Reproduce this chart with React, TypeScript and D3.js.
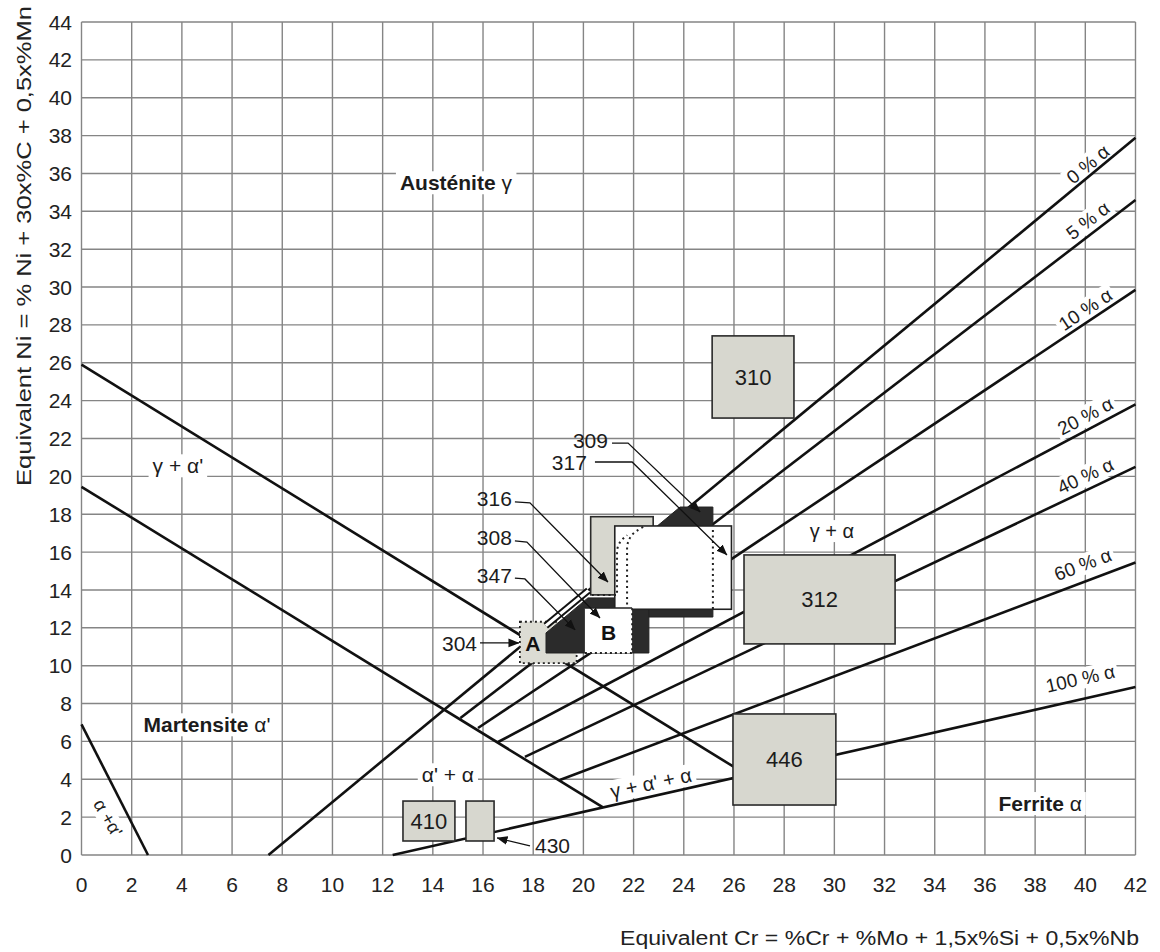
import React, { useEffect, useRef } from 'react';
import * as d3 from 'd3';

const W = 1160;
const H = 952;

// axis ticks
const xTickValues = [0, 2, 4, 6, 8, 10, 12, 14, 16, 18, 20, 22, 24, 26, 28, 30, 32, 34, 36, 38, 40, 42];
const yTickValues = [0, 2, 4, 6, 8, 10, 12, 14, 16, 18, 20, 22, 24, 26, 28, 30, 32, 34, 36, 38, 40, 42, 44];

const xTitle = 'Equivalent Cr = %Cr + %Mo + 1,5x%Si + 0,5x%Nb';
const yTitle = 'Equivalent Ni = % Ni + 30x%C + 0,5x%Mn';

// phase boundary lines (Cr eq, Ni eq)
const lineAlphaMart: [number, number][] = [[0, 6.9], [2.65, 0]];
const lineUpperGammaMart: [number, number][] = [[0, 25.9], [26, 4.65]];
const lineLowerMart: [number, number][] = [[0, 19.45], [20.78, 2.52]];

// iso-ferrite lines
const ferriteLabels = ['0 % α', '5 % α', '10 % α', '20 % α', '40 % α', '60 % α', '100 % α'];
const ferriteStarts: [number, number][] = [[7.45, 0], [15.1, 7.24], [15.8, 6.71], [16.6, 5.97], [17.67, 5.18], [19.06, 3.96], [12.4, 0]];
const ferriteEnds: [number, number][] = [[42, 37.88], [42, 34.6], [42, 29.85], [42, 23.8], [42, 20.5], [42, 15.45], [42, 8.87]];
const ferriteLabelLift = [13, 16, 14, 15, 15, 18, 21];
const ferriteLabelX = [40.1, 40.1, 40.0, 40.0, 40.0, 39.9, 39.8];

// grade boxes (gray)
const gradeNames = ['310', '312', '446', '410', '430'];
const gradeX0 = [25.13, 26.4, 25.96, 12.81, 15.32];
const gradeX1 = [28.39, 32.42, 30.06, 14.88, 16.44];
const gradeY0 = [23.08, 11.15, 2.64, 0.74, 0.74];
const gradeY1 = [27.42, 15.85, 7.45, 2.85, 2.85];
const gradeShowText = [true, true, true, true, false];

// cluster of austenitic grades
const box316 = [20.29, 22.78, 13.74, 17.87];
const box317 = [21.25, 25.9, 12.98, 17.38];
const boxA304 = [17.47, 19.73, 10.13, 12.32];
const boxB308 = [20.06, 21.94, 10.67, 13.05];
const dark347: [number, number][] = [[18.51, 10.67], [18.51, 11.73], [20.18, 13.58], [22.61, 13.58], [22.61, 10.67]];
const dark309: [number, number][] = [[21.94, 12.57], [21.94, 16.27], [23.85, 18.38], [25.16, 18.38], [25.16, 12.57]];
const band0: [number, number][] = [[18.5, 12.11], [20.2, 13.97]];
const dotted1: [number, number][] = [[20.34, 13.73], [21.34, 13.73], [21.34, 16.01], [21.45, 16.5], [21.74, 16.9]];
const dotted2: [number, number][] = [[21.74, 12.94], [21.74, 16.2], [21.9, 16.85], [22.38, 17.33]];
const dotted3: [number, number][] = [[25.16, 17.17], [25.16, 13.0]];

// callouts
const calloutNames = ['304', '347', '308', '316', '309', '317'];
const calloutTextPos: [number, number][] = [[15.76, 11.2], [17.15, 14.79], [17.15, 16.75], [17.15, 18.86], [20.98, 21.92], [20.14, 20.76]];
const calloutPaths: [number, number][][] = [
  [[15.88, 11.2], [17.43, 11.2]],
  [[17.27, 14.63], [17.67, 14.58], [19.67, 11.89]],
  [[17.27, 16.59], [17.75, 16.53], [20.66, 12.52]],
  [[17.27, 18.65], [17.87, 18.6], [20.98, 14.42]],
  [[21.14, 21.76], [21.78, 21.76], [24.65, 18.12]],
  [[20.46, 20.76], [21.94, 20.76], [25.72, 15.85]],
];
const callout430Text: [number, number] = [18.07, 0.48];
const callout430Path: [number, number][] = [[17.87, 0.48], [16.56, 0.9]];

// region labels
type Part = { t: string; b?: boolean };
const regionLabels: { parts: Part[]; at: [number, number]; rot: number; size: number }[] = [
  { parts: [{ t: 'Austénite ', b: true }, { t: 'γ' }], at: [14.92, 35.5], rot: 0, size: 21 },
  { parts: [{ t: 'Martensite ', b: true }, { t: "α'" }], at: [5.0, 6.87], rot: 0, size: 21 },
  { parts: [{ t: 'Ferrite ', b: true }, { t: 'α' }], at: [38.2, 2.71], rot: 0, size: 21 },
  { parts: [{ t: "γ + α'" }], at: [3.84, 20.55], rot: 0, size: 21 },
  { parts: [{ t: 'γ + α' }], at: [29.9, 17.11], rot: 0, size: 20 },
  { parts: [{ t: "α' + α" }], at: [14.6, 4.23], rot: 0, size: 21 },
  { parts: [{ t: "γ + α' + α" }], at: [22.69, 3.8], rot: -12, size: 20 },
  { parts: [{ t: "α +α'" }], at: [1.06, 1.96], rot: 60, size: 18 },
];

const FONT = '"Liberation Sans", Arial, Helvetica, sans-serif';

export default function App() {
  const ref = useRef<SVGSVGElement>(null);

  useEffect(() => {
    const svg = d3.select(ref.current as SVGSVGElement);
    svg.selectAll('*').remove();
    const x = d3.scaleLinear().domain([0, 42]).range([81.5, 1135.5]);
    const y = d3.scaleLinear().domain([0, 44]).range([855, 22]);
    const line = d3.line<[number, number]>().x(d => x(d[0])).y(d => y(d[1]));
    const curve = d3.line<[number, number]>().x(d => x(d[0])).y(d => y(d[1])).curve(d3.curveMonotoneY);

    svg.append('rect').attr('width', W).attr('height', H).attr('fill', '#fff');

    const defs = svg.append('defs');
    defs.append('marker').attr('id', 'arr').attr('viewBox', '0 0 10 10').attr('refX', 9.5).attr('refY', 5)
      .attr('markerWidth', 11).attr('markerHeight', 11).attr('markerUnits', 'userSpaceOnUse').attr('orient', 'auto')
      .append('path').attr('d', 'M0,1 L10,5 L0,9 Z').attr('fill', '#111');

    // grid
    const grid = svg.append('g');
    grid.selectAll('line.v').data(xTickValues).join('line').attr('class', 'v')
      .attr('x1', d => x(d)).attr('x2', d => x(d)).attr('y1', y(0)).attr('y2', y(44))
      .attr('stroke', '#858585').attr('stroke-width', 1.4);
    grid.selectAll('line.h').data(yTickValues).join('line').attr('class', 'h')
      .attr('y1', d => y(d)).attr('y2', d => y(d)).attr('x1', x(0)).attr('x2', x(42))
      .attr('stroke', '#858585').attr('stroke-width', 1.4);

    // tick labels
    svg.append('g').selectAll('text').data(xTickValues).join('text')
      .attr('x', d => x(d)).attr('y', 892).attr('text-anchor', 'middle')
      .attr('font-family', FONT).attr('font-size', 21).attr('fill', '#222').text(d => String(d));
    svg.append('g').selectAll('text').data(yTickValues).join('text')
      .attr('x', 72).attr('y', d => y(d)).attr('dy', '0.36em').attr('text-anchor', 'end')
      .attr('font-family', FONT).attr('font-size', 21).attr('fill', '#222').text(d => String(d));

    // axis titles
    svg.append('text').attr('x', 620).attr('y', 945).attr('font-family', FONT).attr('font-size', 20)
      .attr('fill', '#222').attr('textLength', 519).attr('lengthAdjust', 'spacingAndGlyphs').text(xTitle);
    svg.append('text').attr('transform', 'translate(31,246) rotate(-90)').attr('text-anchor', 'middle')
      .attr('font-family', FONT).attr('font-size', 20).attr('fill', '#222')
      .attr('textLength', 480).attr('lengthAdjust', 'spacingAndGlyphs').text(yTitle);

    // labels with white knock-out background
    const labelLayer = svg.append('g');
    const addLabel = (cx: number, cy: number, rot: number, parts: Part[], size: number, pad: number) => {
      const gg = labelLayer.append('g').attr('transform', `translate(${cx},${cy}) rotate(${rot})`);
      const rect = gg.append('rect').attr('fill', '#fff');
      const t = gg.append('text').attr('text-anchor', 'middle').attr('dy', '0.35em')
        .attr('font-family', FONT).attr('font-size', size).attr('fill', '#1c1c1c');
      parts.forEach(p => t.append('tspan').attr('font-weight', p.b ? 'bold' : 'normal').text(p.t));
      const bb = (t.node() as SVGTextElement).getBBox();
      rect.attr('x', bb.x - pad).attr('y', bb.y).attr('width', bb.width + 2 * pad).attr('height', bb.height);
    };
    regionLabels.forEach(r => addLabel(x(r.at[0]), y(r.at[1]), r.rot, r.parts, r.size, 4));
    ferriteLabels.forEach((lab, i) => {
      const s = ferriteStarts[i];
      const e = ferriteEnds[i];
      const xd = ferriteLabelX[i];
      const yd = s[1] + (e[1] - s[1]) * (xd - s[0]) / (e[0] - s[0]);
      const ang = Math.atan2(y(e[1]) - y(s[1]), x(e[0]) - x(s[0])) * 180 / Math.PI;
      addLabel(x(xd), y(yd) - ferriteLabelLift[i], ang, [{ t: lab }], 19, 3);
    });

    // lines
    const lines = svg.append('g').attr('fill', 'none').attr('stroke', '#111').attr('stroke-width', 2.6);
    [lineAlphaMart, lineUpperGammaMart, lineLowerMart].forEach(p => lines.append('path').attr('d', line(p)));
    ferriteStarts.forEach((s, i) => lines.append('path').attr('d', line([s, ferriteEnds[i]])));

    // gray grade boxes
    const boxes = svg.append('g');
    gradeNames.forEach((n, i) => {
      boxes.append('rect').attr('x', x(gradeX0[i])).attr('y', y(gradeY1[i]))
        .attr('width', x(gradeX1[i]) - x(gradeX0[i])).attr('height', y(gradeY0[i]) - y(gradeY1[i]))
        .attr('fill', '#d7d7cf').attr('stroke', '#2a2a2a').attr('stroke-width', 1.6);
      if (gradeShowText[i]) {
        boxes.append('text').attr('x', x((gradeX0[i] + gradeX1[i]) / 2)).attr('y', y((gradeY0[i] + gradeY1[i]) / 2))
          .attr('dy', '0.36em').attr('text-anchor', 'middle').attr('font-family', FONT).attr('font-size', 22)
          .attr('fill', '#1c1c1c').text(n);
      }
    });

    const rectOf = (b: number[]) => ({ x: x(b[0]), y: y(b[3]), w: x(b[1]) - x(b[0]), h: y(b[2]) - y(b[3]) });
    const cl = svg.append('g');
    const r316 = rectOf(box316);
    cl.append('rect').attr('x', r316.x).attr('y', r316.y).attr('width', r316.w).attr('height', r316.h)
      .attr('fill', '#d7d7cf').attr('stroke', '#2a2a2a').attr('stroke-width', 1.6);
    cl.append('path').attr('d', line(dark309) + 'Z').attr('fill', '#2b2b2b').attr('stroke', '#222').attr('stroke-width', 1);
    const rA = rectOf(boxA304);
    cl.append('rect').attr('x', rA.x).attr('y', rA.y).attr('width', rA.w).attr('height', rA.h)
      .attr('fill', '#dcdcd4').attr('stroke', '#222').attr('stroke-width', 1.8).attr('stroke-dasharray', '2,3');
    cl.append('path').attr('d', line(dark347) + 'Z').attr('fill', '#2b2b2b').attr('stroke', '#222').attr('stroke-width', 1);
    cl.append('path').attr('d', line(band0)).attr('stroke', '#111').attr('stroke-width', 7).attr('fill', 'none');
    cl.append('path').attr('d', line(band0)).attr('stroke', '#fff').attr('stroke-width', 3).attr('fill', 'none');
    const r317 = rectOf(box317);
    cl.append('rect').attr('x', r317.x).attr('y', r317.y).attr('width', r317.w).attr('height', r317.h)
      .attr('fill', '#fff').attr('stroke', '#222').attr('stroke-width', 1.6);
    [dotted1, dotted2, dotted3].forEach(p => cl.append('path').attr('d', curve(p)).attr('fill', 'none')
      .attr('stroke', '#222').attr('stroke-width', 2).attr('stroke-dasharray', '2,3.5'));
    const rB = rectOf(boxB308);
    cl.append('rect').attr('x', rB.x).attr('y', rB.y).attr('width', rB.w).attr('height', rB.h).attr('fill', '#fff');
    cl.append('path').attr('d', line([[boxB308[0], boxB308[3]], [boxB308[1], boxB308[3]]])).attr('stroke', '#222').attr('stroke-width', 1.4);
    cl.append('path').attr('d', line([[boxB308[0], boxB308[2]], [boxB308[1], boxB308[2]], [boxB308[1], boxB308[3]]]))
      .attr('fill', 'none').attr('stroke', '#222').attr('stroke-width', 1.8).attr('stroke-dasharray', '2,3');
    cl.append('text').attr('x', rA.x + 13).attr('y', y((boxA304[2] + boxA304[3]) / 2) + 1).attr('dy', '0.36em')
      .attr('text-anchor', 'middle').attr('font-family', FONT).attr('font-weight', 'bold').attr('font-size', 21)
      .attr('fill', '#111').text('A');
    cl.append('text').attr('x', rB.x + rB.w / 2).attr('y', rB.y + rB.h / 2 + 2).attr('dy', '0.36em')
      .attr('text-anchor', 'middle').attr('font-family', FONT).attr('font-weight', 'bold').attr('font-size', 21)
      .attr('fill', '#111').text('B');

    // callouts
    const co = svg.append('g');
    calloutNames.forEach((n, i) => {
      co.append('text').attr('x', x(calloutTextPos[i][0])).attr('y', y(calloutTextPos[i][1])).attr('dy', '0.36em')
        .attr('text-anchor', 'end').attr('font-family', FONT).attr('font-size', 21).attr('fill', '#1c1c1c').text(n);
      co.append('path').attr('d', line(calloutPaths[i])).attr('fill', 'none').attr('stroke', '#111')
        .attr('stroke-width', 1.3).attr('marker-end', 'url(#arr)');
    });
    co.append('text').attr('x', x(callout430Text[0])).attr('y', y(callout430Text[1])).attr('dy', '0.36em')
      .attr('text-anchor', 'start').attr('font-family', FONT).attr('font-size', 21).attr('fill', '#1c1c1c').text('430');
    co.append('path').attr('d', line(callout430Path)).attr('fill', 'none').attr('stroke', '#111')
      .attr('stroke-width', 1.3).attr('marker-end', 'url(#arr)');
  }, []);

  return <svg ref={ref} width={W} height={H} style={{ position: 'absolute', left: 0, top: 0, display: 'block' }} />;
}
